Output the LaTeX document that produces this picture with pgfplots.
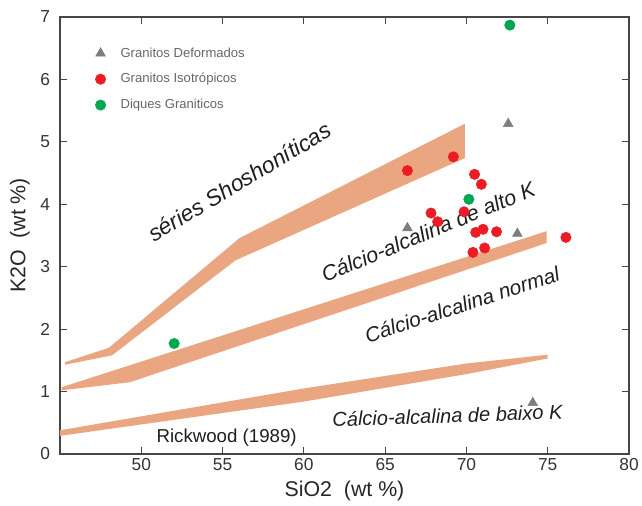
\documentclass[border=0pt]{standalone}
\usepackage{fontspec}
\setmainfont{Liberation Sans}
\usepackage{pgfplots}
\pgfplotsset{compat=1.18}
\definecolor{band}{RGB}{233,166,128}
\definecolor{myred}{RGB}{236,28,36}
\definecolor{mygreen}{RGB}{0,166,80}
\definecolor{mygray}{RGB}{125,125,125}
\definecolor{axgray}{RGB}{70,70,70}
\definecolor{txt}{RGB}{30,30,30}
\begin{document}
\begin{tikzpicture}
\path[use as bounding box] (-45pt,-39pt) rectangle (436.5pt,340.5pt);
\begin{axis}[
  scale only axis, width=426.75pt, height=327.75pt,
  xmin=45, xmax=80, ymin=0, ymax=7,
  xtick={50,55,...,80}, ytick={0,1,...,7},
  tick align=inside, major tick length=5pt,
  axis line style={axgray, line width=0.8pt},
  every tick/.style={axgray, line width=0.8pt},
  tick label style={font=\fontsize{13}{15}\selectfont, text=black!80},
  yticklabel style={xshift=-4pt},
  /pgf/number format/assume math mode=true,
  xlabel={SiO2\ \ (wt \%)}, ylabel={K2O\ \ (wt \%)},
  label style={font=\fontsize{16}{18}\selectfont, text=black!85},
  xlabel style={yshift=-1pt},
  ylabel style={yshift=1pt},
  legend style={draw=none, fill=none, at={(axis cs:46.75,6.60)}, anchor=north west,
    font=\fontsize{9.8}{11}\selectfont, text=black!60, row sep=6.75pt},
  legend cell align=left,
  legend image code/.code={\path (0cm,0cm) (0.65cm,0cm); \draw[mark repeat=2,mark phase=2,#1] plot coordinates {(0cm,0cm) (0.2cm,0cm) (0.65cm,0cm)};},
]
% bands
\addplot[fill=band, draw=none, forget plot] coordinates {
  (45.3,1.47) (48.0,1.70) (56.05,3.46) (69.9,5.29) (69.9,4.74) (55.78,3.10) (48.2,1.58) (45.3,1.43)} -- cycle;
\addplot[fill=band, draw=none, forget plot] coordinates {
  (45.1,1.07) (74.94,3.57) (74.94,3.38) (49.3,1.15) (45.1,1.02)} -- cycle;
\addplot[fill=band, draw=none, forget plot] coordinates {
  (45.0,0.38) (60,1.05) (70,1.45) (75,1.59) (75,1.53) (70,1.28) (60,0.84) (45.0,0.29)} -- cycle;
% data
\addplot[only marks, mark=triangle*, mark size=4.2pt, color=mygray] coordinates {
  (72.57,5.29) (73.13,3.53) (66.37,3.62) (74.08,0.82)};
\addlegendentry{Granitos Deformados}
\addplot[only marks, mark=*, mark size=3.9pt, color=myred] coordinates {
  (69.2,4.76) (66.37,4.54) (70.5,4.48) (70.92,4.32) (67.82,3.86) (68.23,3.72)
  (69.85,3.88) (70.57,3.55) (71.02,3.60) (71.85,3.56) (76.12,3.47) (70.4,3.23) (71.12,3.30)};
\addlegendentry{Granitos Isotrópicos}
\addplot[only marks, mark=*, mark size=3.9pt, color=mygreen] coordinates {
  (72.67,6.87) (70.15,4.08) (52.02,1.77)};
\addlegendentry{Diques Graniticos}
% labels
\node[font=\itshape\fontsize{17}{18}\selectfont, text=txt, rotate=31, anchor=base] at (axis cs:56.3,4.25) {séries Shoshoníticas};
\node[font=\itshape\fontsize{16}{18}\selectfont, text=txt, rotate=22.5, anchor=base] at (axis cs:67.83,3.45) {Cálcio-alcalina de alto K};
\node[font=\itshape\fontsize{15.5}{18}\selectfont, text=txt, rotate=18, anchor=base] at (axis cs:69.88,2.28) {Cálcio-alcalina normal};
\node[font=\itshape\fontsize{15}{18}\selectfont, text=txt, rotate=2, anchor=base] at (axis cs:68.85,0.50) {Cálcio-alcalina de baixo K};
\node[font=\fontsize{14}{16}\selectfont, text=txt, anchor=base] at (axis cs:55.25,0.19) {Rickwood (1989)};
\end{axis}
\end{tikzpicture}
\end{document}
